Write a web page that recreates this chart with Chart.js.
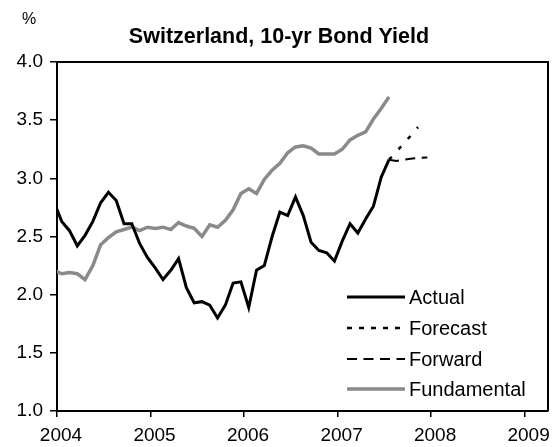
<!DOCTYPE html>
<html>
<head>
<meta charset="utf-8">
<script src="https://cdn.jsdelivr.net/npm/chart.js@4/dist/chart.umd.min.js"></script>
<style>
  html, body { margin: 0; padding: 0; background: #fff; }
  canvas { display: block; }
</style>
</head>
<body>
<canvas id="c" width="555" height="447"></canvas>
<script>
// ---- Data ----
// Monthly observations, Dec 2003 .. Jul 2007 (first month only feeds the clipped edge)
const months = [
  '2003-12',
  '2004-01','2004-02','2004-03','2004-04','2004-05','2004-06','2004-07','2004-08','2004-09','2004-10','2004-11','2004-12',
  '2005-01','2005-02','2005-03','2005-04','2005-05','2005-06','2005-07','2005-08','2005-09','2005-10','2005-11','2005-12',
  '2006-01','2006-02','2006-03','2006-04','2006-05','2006-06','2006-07','2006-08','2006-09','2006-10','2006-11','2006-12',
  '2007-01','2007-02','2007-03','2007-04','2007-05','2007-06','2007-07'
];
const actual = [
  2.80,
  2.63, 2.55, 2.42, 2.51, 2.63, 2.79, 2.88, 2.81, 2.61, 2.61, 2.44, 2.32,
  2.23, 2.13, 2.21, 2.31, 2.06, 1.93, 1.94, 1.91, 1.80, 1.91, 2.10, 2.11,
  1.89, 2.21, 2.25, 2.50, 2.71, 2.68, 2.84, 2.68, 2.45, 2.38, 2.36, 2.29,
  2.46, 2.61, 2.53, 2.65, 2.76, 3.01, 3.16
];
const fundamental = [
  2.21,
  2.18, 2.19, 2.18, 2.13, 2.25, 2.43, 2.49, 2.54, 2.56, 2.58, 2.55, 2.58,
  2.57, 2.58, 2.56, 2.62, 2.59, 2.57, 2.50, 2.60, 2.58, 2.64, 2.73, 2.87,
  2.91, 2.87, 2.99, 3.07, 3.13, 3.22, 3.27, 3.28, 3.26, 3.21, 3.21, 3.21,
  3.25, 3.33, 3.37, 3.40, 3.51, 3.60, 3.70
];
// Projections (x in decimal years)
const forecastX = [2007.55, 2007.71, 2007.86];
const forecast  = [3.16, 3.30, 3.44];
const forwardX  = [2007.55, 2007.63, 2007.80, 2007.96];
const forward   = [3.16, 3.15, 3.17, 3.18];

const xTicks = [2004, 2005, 2006, 2007, 2008, 2009];
const yTicks = [1.0, 1.5, 2.0, 2.5, 3.0, 3.5, 4.0];
const seriesNames = ['Actual', 'Forecast', 'Forward', 'Fundamental'];
const titleText = 'Switzerland, 10-yr Bond Yield';
const unitText = '%';

// ---- Helpers ----
const FONT = '"Liberation Sans", Arial, sans-serif';
function monthToX(m) {
  const [y, mo] = m.split('-').map(Number);
  return y + (mo - 1 + 0.6) / 12;
}
const monthX = months.map(monthToX);
const pts = (xs, ys) => xs.map((x, i) => ({ x, y: ys[i] }));

const styles = [
  { color: '#000000', width: 3, dash: [], legendDash: [] },
  { color: '#000000', width: 2.5, dash: [4, 10], legendDash: [5, 7] },
  { color: '#000000', width: 2, dash: [10, 6.5], legendDash: [10, 6.5] },
  { color: '#8a8a8a', width: 3.5, dash: [], legendDash: [] }
];

const datasets = [
  { label: seriesNames[0], data: pts(monthX, actual) },
  { label: seriesNames[1], data: pts(forecastX, forecast) },
  { label: seriesNames[2], data: pts(forwardX, forward) },
  { label: seriesNames[3], data: pts(monthX, fundamental) }
].map((d, i) => Object.assign(d, {
  borderColor: styles[i].color,
  borderWidth: styles[i].width,
  borderDash: styles[i].dash,
  pointRadius: 0,
  tension: 0,
  fill: false,
  clip: 0,
  order: i === 3 ? 5 : i
}));

const frameAndText = {
  id: 'frameAndText',
  afterDraw(chart) {
    const ctx = chart.ctx;
    const a = chart.chartArea;
    ctx.save();
    // box (top and right edges)
    ctx.strokeStyle = '#000';
    ctx.lineWidth = 2;
    ctx.beginPath();
    ctx.moveTo(a.left, a.top);
    ctx.lineTo(a.right, a.top);
    ctx.lineTo(a.right, a.bottom);
    ctx.stroke();
    // title
    ctx.fillStyle = '#000';
    ctx.font = 'bold 21.5px ' + FONT;
    ctx.textAlign = 'center';
    ctx.textBaseline = 'alphabetic';
    ctx.fillText(titleText, 279, 43);
    // unit
    ctx.font = '16px ' + FONT;
    ctx.fillText(unitText, 29, 24);
    // legend
    const rowsY = [297, 328, 359, 389];
    const x0 = 347, x1 = 405;
    ctx.font = '20px ' + FONT;
    ctx.textAlign = 'left';
    ctx.textBaseline = 'middle';
    seriesNames.forEach((name, i) => {
      const s = styles[i];
      ctx.strokeStyle = s.color;
      ctx.lineWidth = s.width;
      ctx.setLineDash(s.legendDash);
      ctx.beginPath();
      ctx.moveTo(x0, rowsY[i]);
      ctx.lineTo(x1, rowsY[i]);
      ctx.stroke();
      ctx.setLineDash([]);
      ctx.fillStyle = '#000';
      ctx.fillText(name, 409, rowsY[i] + 1);
    });
    ctx.restore();
  }
};

new Chart(document.getElementById('c'), {
  type: 'line',
  data: { datasets },
  options: {
    responsive: false,
    animation: false,
    devicePixelRatio: 1,
    layout: { padding: { top: 62, right: 7, left: 0, bottom: 0 } },
    plugins: { legend: { display: false }, title: { display: false }, tooltip: { enabled: false } },
    scales: {
      x: {
        type: 'linear',
        min: 2004,
        max: 2009.25,
        afterBuildTicks: s => { s.ticks = xTicks.map(v => ({ value: v })); },
        afterFit: s => { s.height = 36; },
        ticks: {
          color: '#000',
          font: { family: FONT, size: 19 },
          padding: 7,
          labelOffset: 4,
          maxRotation: 0,
          autoSkip: false,
          callback: v => String(v)
        },
        grid: { display: true, drawOnChartArea: false, drawTicks: true, tickLength: 6, color: '#000', lineWidth: 1.5 },
        border: { display: true, color: '#000', width: 2 }
      },
      y: {
        type: 'linear',
        min: 1,
        max: 4,
        afterBuildTicks: s => { s.ticks = yTicks.map(v => ({ value: v })); },
        afterFit: s => { s.width = 57; },
        ticks: {
          color: '#000',
          font: { family: FONT, size: 19 },
          padding: 7,
          autoSkip: false,
          callback: v => Number(v).toFixed(1)
        },
        grid: { display: true, drawOnChartArea: false, drawTicks: true, tickLength: 7, color: '#000', lineWidth: 1.5 },
        border: { display: true, color: '#000', width: 2 }
      }
    }
  },
  plugins: [frameAndText]
});
</script>
</body>
</html>
